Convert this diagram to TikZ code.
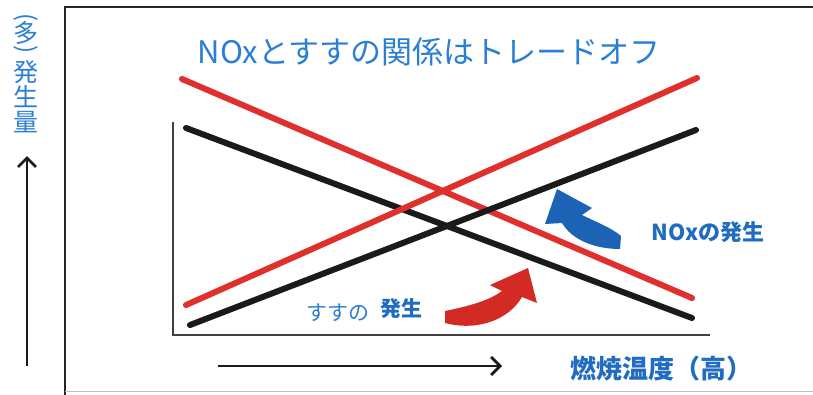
\documentclass[tikz,border=0pt]{standalone}
\usepackage{fontspec}
\newfontfamily\jp{Noto Sans CJK JP}
\usetikzlibrary{arrows.meta}
\definecolor{ttl}{HTML}{2A7FD4}
\definecolor{lbl}{HTML}{1F6CC0}
\definecolor{redl}{HTML}{E0302E}
\definecolor{blkl}{HTML}{1A1A1A}
\definecolor{redarr}{HTML}{D42A24}
\definecolor{bluarr}{HTML}{1D63B5}
\begin{document}
\begin{tikzpicture}[x=1pt,y=-1pt,
  chartline/.style={line width=6pt,line cap=round},
  axisline/.style={line width=2pt,draw=black!75},
  bigarrow/.style={line width=2.8pt,draw=blkl,-{Straight Barb[length=9pt,width=18pt,line width=2.8pt]}},
  txt/.style={inner sep=0pt,font=\jp},
  vchar/.style={inner sep=0pt,text=ttl,font=\jp\fontsize{25}{26}\selectfont},
  vpar/.style={inner sep=0pt,text=ttl,font=\jp\fontsize{24}{26}\selectfont}
]
\useasboundingbox (0,0) rectangle (813,394);
\fill[white] (0,0) rectangle (813,394);
% outer frame
\draw[line width=2.5pt,draw=black!85] (65,400) -- (65,7) -- (820,7);
\draw[line width=1pt,draw=black!25] (65,391) -- (820,391);
% inner axes
\draw[axisline] (173,122) -- (173,335) -- (710,335);
% chart lines
\draw[chartline,draw=blkl] (186,128) -- (692,318);
\draw[chartline,draw=redl] (182,79) -- (692,298);
\draw[chartline,draw=redl] (186,305) -- (697,78);
\draw[chartline,draw=blkl] (190,325) -- (696,130);
% curved arrows
\fill[redarr] (445,311) .. controls (470,306) and (490,300) .. (502,291) -- (490,285) -- (528,268) -- (537,303) -- (522,297) .. controls (510,318) and (480,332) .. (445,323) -- cycle;
\fill[bluarr] (557,189) -- (592,208) -- (582,215) .. controls (596,222) and (612,228) .. (621,236) -- (620,249) .. controls (595,249) and (572,240) .. (562,223) -- (545,224) -- cycle;
% texts
\node[txt,text=ttl,font=\jp\fontsize{31}{33}\selectfont] (title) at (429,52) {NOxとすすの関係はトレードオフ};
\node[txt,text=lbl,font=\jp\bfseries\fontsize{22}{24}\selectfont] (nox) at (708,232) {NOxの発生};
\node[txt,text=ttl,font=\jp\fontsize{21}{22}\selectfont] (susu) at (338,313) {すすの};
\node[txt,text=lbl,font=\jp\bfseries\fontsize{21}{22}\selectfont] (hassei) at (401,309) {発生};
\node[txt,text=lbl,font=\jp\bfseries\fontsize{26}{28}\selectfont] (temp) at (661,369) {燃焼温度（高）};
% vertical label
\node[vpar,rotate=-90] (v1) at (26,18) {(};
\node[vchar] (v2) at (26,33) {多};
\node[vpar,rotate=-90] (v3) at (26,50) {)};
\node[vchar] (v4) at (26,72) {発};
\node[vchar] (v5) at (26,97) {生};
\node[vchar] (v6) at (26,122) {量};
% axis arrows
\coordinate (ya) at (27,366);
\coordinate (yb) at (27,156);
\draw[bigarrow] (ya) -- (yb);
\coordinate (xa) at (218,366);
\coordinate (xb) at (502,366);
\draw[bigarrow] (xa) -- (xb);
\end{tikzpicture}
\end{document}
